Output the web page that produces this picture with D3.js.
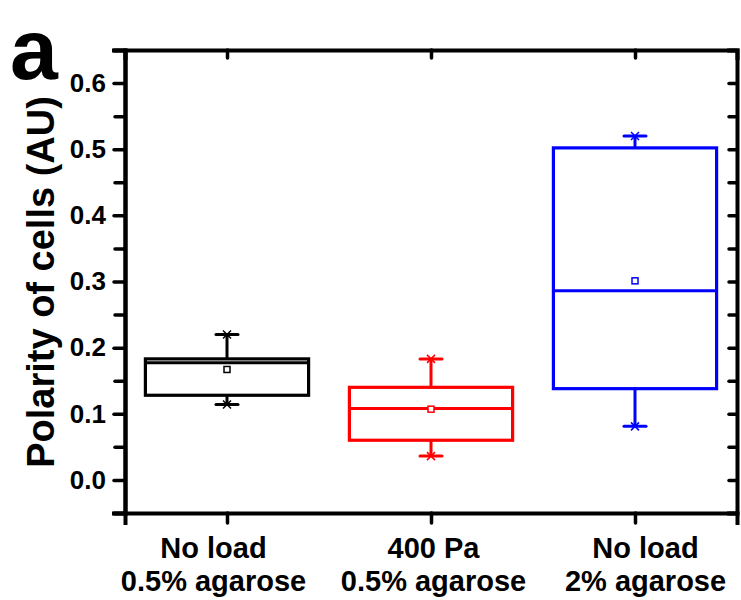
<!DOCTYPE html>
<html>
<head>
<meta charset="utf-8">
<script src="https://cdn.jsdelivr.net/npm/d3@7"></script>
<style>
  body { margin: 0; background: #fff; }
  text { font-family: Arial, "Liberation Sans", sans-serif; font-weight: bold; }
</style>
</head>
<body>
<script>
// Chart size
const WIDTH = 741;
const HEIGHT = 600;

// Data
const groups = ['No load|0.5% agarose', '400 Pa|0.5% agarose', 'No load|2% agarose'];
const colors = ['#000000', '#ff0000', '#0000ff'];
const whiskerLow = [0.114, 0.036, 0.081];
const boxLow = [0.128, 0.060, 0.138];
const medians = [0.177, 0.108, 0.286];
const boxHigh = [0.183, 0.140, 0.502];
const whiskerHigh = [0.220, 0.183, 0.520];
const means = [0.167, 0.107, 0.301];
const majorTicks = [0.0, 0.1, 0.2, 0.3, 0.4, 0.5, 0.6];
const minorTicks = [-0.05, 0.05, 0.15, 0.25, 0.35, 0.45, 0.55, 0.65];

const margin = { left: 125, right: 4, top: 50, bottom: 87 };
// labels in the original sit a bit off their ticks
const labelShift = [-14, 2, 10];

function initCanvas() {
    return d3.select('body')
        .append('svg')
        .attr('width', WIDTH)
        .attr('height', HEIGHT);
}

function styleAxis(g, domainWidth) {
    g.select('.domain').attr('stroke', '#000').attr('stroke-width', domainWidth)
        .attr('stroke-linecap', 'square');
    g.selectAll('.tick line').attr('stroke', '#000').attr('stroke-width', 3.5)
        .attr('stroke-linecap', 'round');
}

function drawChart(svg) {
    const x = d3.scaleLinear()
        .domain([0.5, 3.5])
        .range([margin.left, WIDTH - margin.right]);
    const y = d3.scaleLinear()
        .domain([-0.05, 0.65])
        .range([HEIGHT - margin.bottom, margin.top]);

    const idx = [1, 2, 3];
    const yTop = y(0.65), yBot = y(-0.05);

    // left axis, major + minor
    const left = svg.append('g').attr('transform', `translate(${x(0.5)},0)`)
        .call(d3.axisLeft(y).tickValues(majorTicks).tickSize(11).tickPadding(8)
            .tickFormat(d3.format('.1f')));
    styleAxis(left, 4);
    left.selectAll('text').attr('font-size', 26).attr('fill', '#000');
    const leftMinor = svg.append('g').attr('transform', `translate(${x(0.5)},0)`)
        .call(d3.axisLeft(y).tickValues(minorTicks).tickSize(10).tickFormat(''));
    styleAxis(leftMinor, 4);

    // right axis, ticks pointing in
    const right = svg.append('g').attr('transform', `translate(${x(3.5)},0)`)
        .call(d3.axisRight(y).tickValues(majorTicks.concat(minorTicks)).tickSize(-8).tickFormat(''));
    styleAxis(right, 4);

    // top axis, ticks pointing in
    const top = svg.append('g').attr('transform', `translate(0,${yTop})`)
        .call(d3.axisTop(x).tickValues(idx).tickSize(-8).tickFormat(''));
    styleAxis(top, 4);

    // bottom axis with category labels
    const bottom = svg.append('g').attr('transform', `translate(0,${yBot})`)
        .call(d3.axisBottom(x).tickValues(idx).tickSize(10).tickFormat(''));
    styleAxis(bottom, 4);
    bottom.selectAll('.tick').each(function (d) {
        const lines = groups[d - 1].split('|');
        const dx = labelShift[d - 1];
        const t = d3.select(this).append('text')
            .attr('fill', '#000')
            .attr('font-size', 29)
            .attr('text-anchor', 'middle');
        t.append('tspan').attr('x', dx).attr('y', 45).text(lines[0]);
        t.append('tspan').attr('x', dx).attr('y', 78).text(lines[1]);
    });

    // boxes
    const halfBox = x(1.4) - x(1);
    const capHalf = 11;
    const plot = svg.append('g');
    idx.forEach((k, i) => {
        const cx = x(k);
        const g = plot.append('g').attr('stroke', colors[i]).attr('fill', 'none');
        // whiskers
        g.append('line').attr('x1', cx).attr('x2', cx)
            .attr('y1', y(boxHigh[i])).attr('y2', y(whiskerHigh[i])).attr('stroke-width', 3);
        g.append('line').attr('x1', cx).attr('x2', cx)
            .attr('y1', y(boxLow[i])).attr('y2', y(whiskerLow[i])).attr('stroke-width', 3);
        [whiskerHigh[i], whiskerLow[i]].forEach(v => {
            g.append('line').attr('x1', cx - capHalf).attr('x2', cx + capHalf)
                .attr('y1', y(v)).attr('y2', y(v)).attr('stroke-width', 3)
                .attr('stroke-linecap', 'round');
            // small x marker at the extreme
            g.append('path')
                .attr('d', `M${cx - 4},${y(v) - 4}L${cx + 4},${y(v) + 4}M${cx - 4},${y(v) + 4}L${cx + 4},${y(v) - 4}`)
                .attr('stroke-width', 1.5);
        });
        // box
        g.append('rect')
            .attr('x', cx - halfBox).attr('width', 2 * halfBox)
            .attr('y', y(boxHigh[i])).attr('height', y(boxLow[i]) - y(boxHigh[i]))
            .attr('stroke-width', 3.2).attr('fill', 'none');
        // median
        g.append('line').attr('x1', cx - halfBox).attr('x2', cx + halfBox)
            .attr('y1', y(medians[i])).attr('y2', y(medians[i])).attr('stroke-width', 3);
        // mean
        g.append('rect').attr('x', cx - 3).attr('y', y(means[i]) - 3)
            .attr('width', 6).attr('height', 6).attr('stroke-width', 1.5).attr('fill', '#fff');
    });

    // y label
    svg.append('text')
        .attr('transform', 'translate(54,282) rotate(-90)')
        .attr('text-anchor', 'middle')
        .attr('font-size', 38)
        .attr('fill', '#000')
        .text('Polarity of cells (AU)');

    // panel letter
    svg.append('text')
        .attr('x', 10).attr('y', 79)
        .attr('font-size', 86)
        .attr('fill', '#000')
        .text('a');
}

function main() {
    const svg = initCanvas();
    drawChart(svg);
}

main();
</script>
</body>
</html>
